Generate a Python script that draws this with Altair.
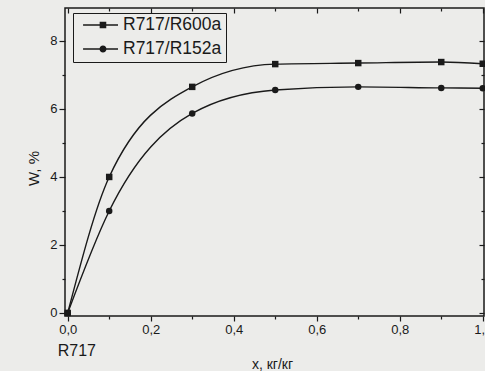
import altair as alt
import pandas as pd

# Mass fraction of the additive and the resulting W, %
x_frac = [0.0, 0.1, 0.3, 0.5, 0.7, 0.9, 1.0]
w_r600a = [0.0, 4.0, 6.65, 7.32, 7.35, 7.38, 7.33]
w_r152a = [0.0, 3.0, 5.87, 6.56, 6.65, 6.62, 6.61]
series = ["R717/R600a", "R717/R152a"]
markers = ["square", "circle"]

x_major = [0.0, 0.2, 0.4, 0.6, 0.8, 1.0]
x_minor = [0.1, 0.3, 0.5, 0.7, 0.9]
y_major = [0, 2, 4, 6, 8]
y_minor = [1, 3, 5, 7]
pure_label = ["R717"]

W, H = 419, 308
INK = "#1a1a1a"
PAPER = "#ececea"
FONT = "Liberation Sans"

n = len(x_frac)
df = pd.DataFrame({
    "x": x_frac + x_frac,
    "w": w_r600a + w_r152a,
    "s": [series[0]] * n + [series[1]] * n,
    "mk": [markers[0]] * n + [markers[1]] * n,
})

xs = alt.Scale(domain=[-0.0065, 1.003], nice=False, zero=False)
ys = alt.Scale(domain=[-0.09, 8.97], nice=False, zero=False)

comma_fmt = "replace(format(datum.value, '.1f'), '.', ',')"


def frame_axis(orient, values, size, offset=0, labels=False, **kw):
    return alt.Axis(orient=orient, values=values, tickSize=size, offset=offset,
                    labels=labels, domain=False, grid=False, tickColor=INK,
                    tickWidth=1.2, labelFont=FONT, labelColor=INK,
                    titleFont=FONT, titleColor=INK, titleFontWeight="normal",
                    **kw)


def axis_layer(xaxis, yaxis):
    return alt.Chart(df).mark_point(opacity=0).encode(
        x=alt.X("x:Q", scale=xs, axis=xaxis),
        y=alt.Y("w:Q", scale=ys, axis=yaxis),
    )


# bottom / left: outward ticks with labels; top / right: inward ticks
ax_main = axis_layer(
    frame_axis("bottom", x_major, 5, labels=True, labelExpr=comma_fmt,
               labelFontSize=13, labelPadding=2, title="x, кг/кг",
               titleFontSize=14, titleX=207, titleY=52, titleBaseline="alphabetic"),
    frame_axis("left", y_major, 6, labels=True, format="d",
               labelFontSize=13, labelPadding=2, title="W, %",
               titleFontSize=15, titleX=-32, titleY=160, titleBaseline="middle"),
)
ax_minor = axis_layer(frame_axis("bottom", x_minor, 3, title=None),
                      frame_axis("left", y_minor, 3, title=None))
ax_top = axis_layer(frame_axis("top", x_major, 5, offset=-5, title=None),
                    frame_axis("right", y_major, 5, offset=-5, title=None))
ax_top_minor = axis_layer(frame_axis("top", x_minor, 3, offset=-3, title=None),
                          frame_axis("right", y_minor, 3, offset=-3, title=None))

base = alt.Chart(df).encode(
    x=alt.X("x:Q", scale=xs, axis=None),
    y=alt.Y("w:Q", scale=ys, axis=None),
)

lines = base.mark_line(color=INK, strokeWidth=1.4, interpolate="monotone").encode(
    detail="s:N"
)
points = base.mark_point(filled=True, color=INK, opacity=1, size=42).encode(
    shape=alt.Shape("mk:N", scale=None)
)

# legend symbols: a thin bar (the line) with the series marker on it
seg = "M-0.77,-0.03H0.82V0.03H-0.77Z"
sq_path = seg + "M-0.015,-0.15H0.285V0.15H-0.015Z"
ci_path = seg + "M0.296,0A0.16,0.16,0,1,1,-0.024,0A0.16,0.16,0,1,1,0.296,0Z"
legend_layer = base.mark_point(filled=True, opacity=0, color=INK, size=1936).encode(
    shape=alt.Shape(
        "s:N",
        scale=alt.Scale(domain=series, range=[sq_path, ci_path]),
        legend=alt.Legend(
            title=None, orient="none", legendX=8, legendY=5,
            strokeColor=INK, padding=4, rowPadding=6, clipHeight=16,
            symbolSize=1936, symbolFillColor=INK, symbolOpacity=1,
            labelOffset=0, labelFont=FONT, labelFontSize=17.5, labelColor=INK,
        ),
    )
)

pure = alt.Chart(pd.DataFrame({"x": [0.0], "t": pure_label})).mark_text(
    align="left", baseline="alphabetic", dx=-10, fontSize=16, font=FONT, color=INK
).encode(
    x=alt.X("x:Q", scale=xs, axis=None),
    y=alt.value(348),
    text="t:N",
)

chart = alt.layer(
    ax_main, ax_minor, ax_top, ax_top_minor, lines, points, legend_layer, pure
).resolve_axis(
    x="independent", y="independent"
).properties(
    width=W, height=H,
    autosize=alt.AutoSizeParams(type="none"),
    padding={"left": 65, "top": 8, "right": 1, "bottom": 55},
    background=PAPER,
).configure_view(
    stroke=INK, strokeWidth=1.5
)

chart.save("out.html", embed_options={"renderer": "svg", "actions": False})
